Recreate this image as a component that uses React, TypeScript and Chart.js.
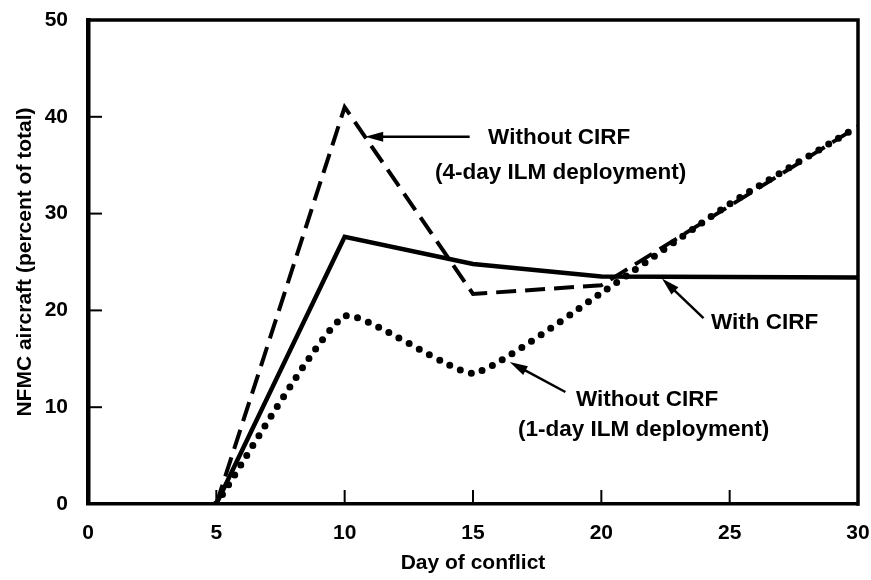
import React, { useEffect, useRef } from "react";
import { Chart, registerables } from "chart.js";

Chart.register(...registerables);

// ---- Data ----
const withCirfDays = [5, 10, 15, 20, 30];
const withCirfValues = [0, 27.6, 24.8, 23.5, 23.4];

const fourDayDays = [5, 10, 15, 20, 30];
const fourDayValues = [0, 41, 21.7, 22.6, 39];

const oneDayDays = [5, 10, 15, 20, 25, 30];
const oneDayValues = [0, 19.4, 13.5, 21.8, 31, 39];

const xTickValues = [0, 5, 10, 15, 20, 25, 30];
const yTickValues = [0, 10, 20, 30, 40, 50];

const xTitle = "Day of conflict";
const yTitle = "NFMC aircraft (percent of total)";

// annotation texts, anchored in data units
const noteTexts = [
  { text: "Without CIRF", x: 18.36, y: 37.8 },
  { text: "(4-day ILM deployment)", x: 18.41, y: 34.2 },
  { text: "With CIRF", x: 26.36, y: 18.7 },
  { text: "Without CIRF", x: 21.78, y: 10.74 },
  { text: "(1-day ILM deployment)", x: 21.65, y: 7.64 },
];

// arrows: from tail to head, in data units
const noteArrows = [
  { fromX: 14.87, fromY: 37.95, toX: 10.8, toY: 37.95 },
  { fromX: 23.98, fromY: 19.2, toX: 22.36, toY: 23.3 },
  { fromX: 18.6, fromY: 11.57, toX: 16.43, toY: 14.67 },
];

const FONT = '"Liberation Sans", Arial, Helvetica, sans-serif';

const toPoints = (xs: number[], ys: number[]) =>
  xs.map((x, i) => ({ x, y: ys[i] }));

const framePlugin = {
  id: "frameAndTicks",
  beforeDatasetsDraw(chart: any) {
    const { ctx, chartArea, scales } = chart;
    const xs = scales.x;
    const ys = scales.y;
    ctx.save();
    ctx.strokeStyle = "#000";
    ctx.lineWidth = 2;
    xTickValues.forEach((v) => {
      if (v === 0 || v === 30) return;
      const px = xs.getPixelForValue(v);
      ctx.beginPath();
      ctx.moveTo(px, chartArea.bottom);
      ctx.lineTo(px, chartArea.bottom - 14);
      ctx.stroke();
    });
    yTickValues.forEach((v) => {
      if (v === 0 || v === 50) return;
      const py = ys.getPixelForValue(v);
      ctx.beginPath();
      ctx.moveTo(chartArea.left, py);
      ctx.lineTo(chartArea.left + 14, py);
      ctx.stroke();
    });
    ctx.restore();
  },
  afterDraw(chart: any) {
    const { ctx, chartArea } = chart;
    ctx.save();
    ctx.strokeStyle = "#000";
    ctx.lineWidth = 3.5;
    ctx.lineCap = "square";
    ctx.beginPath();
    ctx.moveTo(chartArea.left, chartArea.top);
    ctx.lineTo(chartArea.right, chartArea.top);
    ctx.lineTo(chartArea.right, chartArea.bottom);
    ctx.stroke();
    ctx.restore();
  },
};

const annotationPlugin = {
  id: "notes",
  afterDatasetsDraw(chart: any) {
    const { ctx, scales } = chart;
    const xs = scales.x;
    const ys = scales.y;
    ctx.save();
    ctx.fillStyle = "#000";
    ctx.strokeStyle = "#000";
    ctx.font = `bold 22.5px ${FONT}`;
    ctx.textAlign = "center";
    ctx.textBaseline = "middle";
    noteTexts.forEach((n) => {
      ctx.fillText(n.text, xs.getPixelForValue(n.x), ys.getPixelForValue(n.y));
    });
    noteArrows.forEach((a) => {
      const x1 = xs.getPixelForValue(a.fromX);
      const y1 = ys.getPixelForValue(a.fromY);
      const x2 = xs.getPixelForValue(a.toX);
      const y2 = ys.getPixelForValue(a.toY);
      const ang = Math.atan2(y2 - y1, x2 - x1);
      const len = 18;
      const hw = 5;
      ctx.lineWidth = 2.5;
      ctx.beginPath();
      ctx.moveTo(x1, y1);
      ctx.lineTo(x2 - Math.cos(ang) * len * 0.8, y2 - Math.sin(ang) * len * 0.8);
      ctx.stroke();
      const bx = x2 - Math.cos(ang) * len;
      const by = y2 - Math.sin(ang) * len;
      ctx.beginPath();
      ctx.moveTo(x2, y2);
      ctx.lineTo(bx + Math.sin(ang) * hw, by - Math.cos(ang) * hw);
      ctx.lineTo(bx - Math.sin(ang) * hw, by + Math.cos(ang) * hw);
      ctx.closePath();
      ctx.fill();
    });
    ctx.restore();
  },
};

export default function App() {
  const canvasRef = useRef<HTMLCanvasElement | null>(null);

  useEffect(() => {
    if (!canvasRef.current) return;
    const chart = new Chart(canvasRef.current, {
      type: "line",
      data: {
        datasets: [
          {
            label: "With CIRF",
            data: toPoints(withCirfDays, withCirfValues),
            borderColor: "#000",
            borderWidth: 4.5,
            pointRadius: 0,
            tension: 0,
            borderJoinStyle: "miter",
          },
          {
            label: "Without CIRF (4-day ILM deployment)",
            data: toPoints(fourDayDays, fourDayValues),
            borderColor: "#000",
            borderWidth: 4,
            borderDash: [20, 9],
            pointRadius: 0,
            tension: 0,
          },
          {
            label: "Without CIRF (1-day ILM deployment)",
            data: toPoints(oneDayDays, oneDayValues),
            borderColor: "#000",
            borderWidth: 7,
            borderDash: [0, 11.5],
            borderCapStyle: "round",
            pointRadius: 0,
            tension: 0.15,
          },
        ],
      },
      options: {
        animation: false,
        responsive: false,
        devicePixelRatio: 1,
        layout: { padding: { top: 20, right: 13, bottom: 0, left: 0 } },
        plugins: {
          legend: { display: false },
          tooltip: { enabled: false },
        },
        scales: {
          x: {
            type: "linear",
            min: 0,
            max: 30,
            afterBuildTicks: (scale: any) => {
              scale.ticks = xTickValues.map((v) => ({ value: v }));
            },
            afterFit: (scale: any) => {
              scale.height = 76;
              scale.paddingLeft = 0;
              scale.paddingRight = 0;
            },
            grid: { display: false },
            border: { display: true, color: "#000", width: 3.5 },
            ticks: {
              color: "#000",
              padding: 9,
              font: { family: FONT, size: 21, weight: "bold" },
            },
            title: {
              display: true,
              text: xTitle,
              color: "#000",
              padding: { top: 0, bottom: 4 },
              font: { family: FONT, size: 21, weight: "bold" },
            },
          },
          y: {
            type: "linear",
            min: 0,
            max: 50,
            afterBuildTicks: (scale: any) => {
              scale.ticks = yTickValues.map((v) => ({ value: v }));
            },
            afterFit: (scale: any) => {
              scale.width = 88;
              scale.paddingTop = 0;
              scale.paddingBottom = 0;
            },
            grid: { display: false },
            border: { display: true, color: "#000", width: 4.5 },
            ticks: {
              color: "#000",
              padding: 12,
              font: { family: FONT, size: 21, weight: "bold" },
            },
            title: {
              display: true,
              text: yTitle,
              color: "#000",
              padding: { top: 13, bottom: 0 },
              font: { family: FONT, size: 21, weight: "bold" },
            },
          },
        },
      },
      plugins: [framePlugin, annotationPlugin],
    } as any);
    return () => chart.destroy();
  }, []);

  return (
    <div
      style={{
        position: "absolute",
        left: 0,
        top: 0,
        width: 871,
        height: 580,
        background: "#fff",
      }}
    >
      <canvas
        ref={canvasRef}
        width={871}
        height={580}
        style={{ display: "block", width: 871, height: 580 }}
      />
    </div>
  );
}
